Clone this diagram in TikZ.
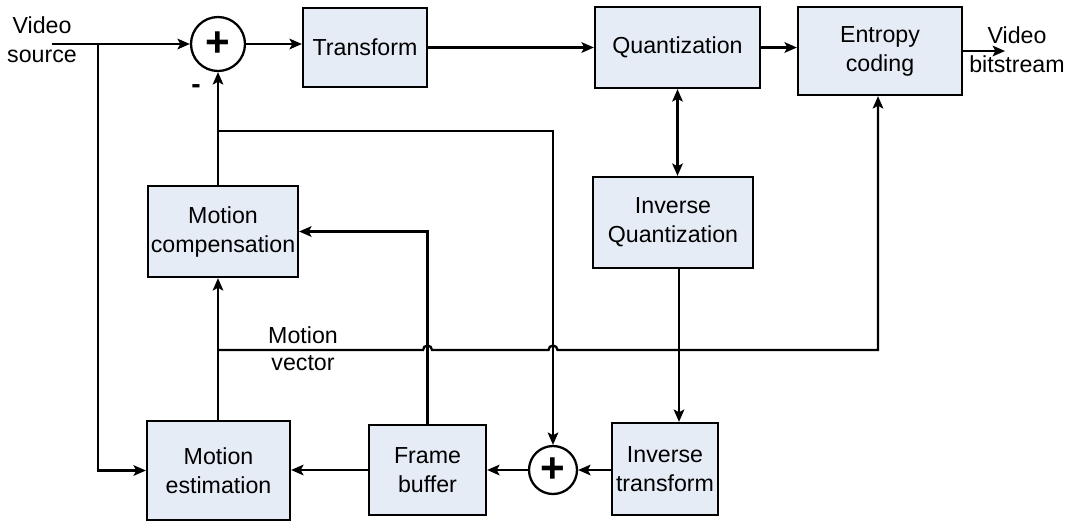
\documentclass[tikz,border=0pt]{standalone}
\usepackage{fontspec}
\setmainfont{Liberation Sans}
\usetikzlibrary{arrows.meta,calc}
\definecolor{boxfill}{RGB}{230,236,246}
\tikzset{
  blk/.style={draw=black, line width=1.3pt, fill=boxfill, align=center, inner sep=0pt,
    font=\fontsize{13.2}{16.5}\selectfont},
  sumnode/.style={draw=black, line width=1.3pt, circle, fill=white, inner sep=0pt},
  lbl/.style={align=center, inner sep=0pt, font=\fontsize{13.2}{16.5}\selectfont},
  conn/.style={line width=1.3pt},
  arr/.style={conn, -{Stealth[length=7pt,width=6pt,inset=1.5pt]}},
  arrb/.style={conn, {Stealth[length=7pt,width=6pt,inset=1.5pt]}-{Stealth[length=7pt,width=6pt,inset=1.5pt]}},
}
\begin{document}
\begin{tikzpicture}[x=0.02cm, y=-0.02cm]
\useasboundingbox (0,0) rectangle (1074,522);

% processing blocks
\node[blk, minimum width=2.48cm, minimum height=1.58cm] (tr) at (365,47.5) {Transform};
\node[blk, minimum width=3.30cm, minimum height=1.62cm] (qu) at (677.5,47.5) {Quantization};
\node[blk, minimum width=3.28cm, minimum height=1.76cm] (ec) at (880,51) {Entropy\\coding};
\node[blk, minimum width=3.20cm, minimum height=1.82cm] (iq) at (673,222.5) {Inverse\\Quantization};
\node[blk, minimum width=2.12cm, minimum height=1.84cm] (it) at (665,469) {Inverse\\transform};
\node[blk, minimum width=2.34cm, minimum height=1.80cm] (fb) at (427.5,470) {Frame\\buffer};
\node[blk, minimum width=2.86cm, minimum height=1.98cm] (me) at (218.5,470.5) {Motion\\estimation};
\node[blk, minimum width=3.00cm, minimum height=1.82cm] (mc) at (223,231.5) {Motion\\compensation};

% adders
\node[sumnode, minimum size=1.08cm, font=\fontsize{24}{24}\selectfont\bfseries] (s1) at (218,44) {+};
\node[sumnode, minimum size=0.96cm, font=\fontsize{24}{24}\selectfont\bfseries] (s2) at (553,470) {+};

% labels
\node[lbl] (vsrc) at (42,40) {Video\\source};
\node[lbl] (vout) at (1017,50) {Video\\bitstream};
\node[lbl, font=\fontsize{16}{16}\selectfont\bfseries] (minus) at (196,89) {-};
\node[lbl] (mvlbl) at (303,349) {Motion\\[-1pt]vector};

% helper points
\coordinate (vin) at (52,44);
\coordinate (br1) at (98,44);
\coordinate (vend) at (1005,51);
\coordinate (mvb) at (218,350);
\coordinate (mvc) at (878,350);
\coordinate (fbk) at (218,131);

% forward path
\draw[arr] (vin) -- (s1.west);
\draw[arr] (br1) |- (me.west);
\draw[arr] (s1.east) -- (s1.east -| tr.west);
\draw[arr] (tr.east) -- (qu.west);
\draw[arr] (qu.east) -- (qu.east -| ec.west);
\draw[arr] (ec.east |- vend) -- (vend);
\draw[arrb] (qu.south) -- (qu.south |- iq.north);
\draw[arr] ([xshift=0.12cm]iq.south) -- ([xshift=0.12cm]iq.south |- it.north);
\draw[arr] (it.west |- s2.east) -- (s2.east);
\draw[arr] (s2.west) -- (s2.west -| fb.east);
\draw[arr] (fb.west) -- (fb.west -| me.east);

% prediction loop
\draw[arr] (s1.south |- me.north) -- (s1.south |- mc.south);
\draw[arr] (fb.north) |- (mc.east);
\draw[arr] (s1.south |- mc.north) -- (s1.south);
\draw[arr] (fbk) -| (s2.north);

% motion vector to entropy coder, hopping over the vertical lines
\draw[arr] (mvb) -- (423,350) arc[start angle=180, end angle=0, radius=0.09cm]
  -- (548.5,350) arc[start angle=180, end angle=0, radius=0.09cm]
  -- (mvc) -- (mvc |- ec.south);
\end{tikzpicture}
\end{document}
